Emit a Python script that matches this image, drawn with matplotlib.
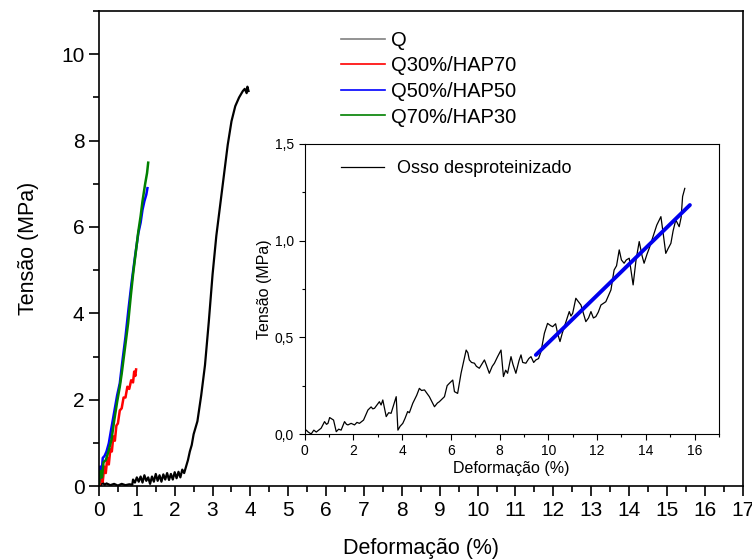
import matplotlib.pyplot as plt
from matplotlib.ticker import MultipleLocator, FuncFormatter

plt.rcParams['font.family'] = ['Liberation Sans', 'DejaVu Sans']

# main curves: strain (%) vs stress (MPa)
q_x = [0.00, 0.05, 0.10, 0.15, 0.20, 0.30, 0.40, 0.50, 0.60, 0.70, 0.80, 0.88,
       0.90, 0.95, 1.00, 1.05, 1.10, 1.15, 1.20, 1.25, 1.30, 1.35, 1.40, 1.45,
       1.50, 1.55, 1.60, 1.65, 1.70, 1.75, 1.80, 1.85, 1.90, 1.95, 2.00, 2.05,
       2.10, 2.15, 2.20, 2.25, 2.30, 2.35, 2.40, 2.45, 2.50, 2.55, 2.60, 2.70,
       2.80, 2.90, 3.00, 3.10, 3.20, 3.30, 3.40, 3.50, 3.60, 3.70, 3.80, 3.85,
       3.90, 3.92, 3.95]
q_y = [0.05, 0.02, 0.08, 0.03, 0.06, 0.02, 0.05, 0.01, 0.05, 0.02, 0.04, 0.03,
       0.15, 0.08, 0.20, 0.10, 0.22, 0.08, 0.25, 0.12, 0.20, 0.05, 0.22, 0.10,
       0.28, 0.12, 0.25, 0.10, 0.27, 0.15, 0.30, 0.14, 0.28, 0.15, 0.32, 0.18,
       0.33, 0.20, 0.38, 0.30, 0.45, 0.60, 0.80, 0.95, 1.20, 1.35, 1.50, 2.10,
       2.80, 3.80, 4.90, 5.80, 6.50, 7.20, 7.90, 8.45, 8.80, 9.00, 9.15, 9.20,
       9.10, 9.25, 9.15]

q30_x = [0.02, 0.06, 0.10, 0.14, 0.18, 0.22, 0.26, 0.30, 0.34, 0.38, 0.42, 0.46,
         0.50, 0.55, 0.60, 0.65, 0.70, 0.75, 0.80, 0.85, 0.90, 0.93, 0.96, 0.98]
q30_y = [0.00, 0.30, 0.10, 0.45, 0.30, 0.65, 0.50, 0.85, 0.80, 1.15, 1.05, 1.40,
         1.45, 1.75, 1.80, 2.05, 2.05, 2.30, 2.25, 2.45, 2.40, 2.65, 2.55, 2.70]

q50_x = [0.00, 0.03, 0.06, 0.10, 0.15, 0.20, 0.26, 0.32, 0.40, 0.48, 0.55, 0.62,
         0.70, 0.78, 0.86, 0.95, 1.04, 1.10, 1.15, 1.20, 1.25, 1.28]
q50_y = [0.10, 0.45, 0.20, 0.65, 0.70, 0.80, 0.99, 1.30, 1.70, 2.10, 2.38, 2.90,
         3.45, 4.10, 4.70, 5.30, 5.86, 6.10, 6.40, 6.60, 6.75, 6.90]

q70_x = [0.00, 0.04, 0.08, 0.12, 0.18, 0.25, 0.33, 0.40, 0.48, 0.55, 0.60, 0.68,
         0.77, 0.84, 0.90, 0.97, 1.04, 1.10, 1.15, 1.22, 1.27, 1.30]
q70_y = [0.05, 0.35, 0.20, 0.55, 0.60, 0.80, 1.07, 1.50, 1.95, 2.30, 2.60, 3.15,
         3.77, 4.40, 4.90, 5.40, 5.90, 6.25, 6.60, 7.00, 7.25, 7.49]

# inset: deproteinized bone
osso_x = [0.00, 0.07, 0.15, 0.27, 0.38, 0.48, 0.58, 0.68, 0.82, 0.90, 0.96, 1.03,
          1.09, 1.19, 1.30, 1.40, 1.50, 1.64, 1.72, 1.78, 1.91, 2.05, 2.15, 2.25,
          2.42, 2.60, 2.73, 2.80, 2.87, 3.07, 3.14, 3.21, 3.35, 3.45, 3.55, 3.76,
          3.83, 3.92, 4.03, 4.12, 4.23, 4.30, 4.44, 4.60, 4.71, 4.80, 4.92, 5.12,
          5.33, 5.45, 5.53, 5.74, 5.85, 5.94, 6.08, 6.15, 6.28, 6.42, 6.63, 6.70,
          6.76, 6.85, 6.97, 7.05, 7.17, 7.38, 7.45, 7.58, 7.70, 7.79, 7.92, 8.06,
          8.16, 8.25, 8.33, 8.47, 8.55, 8.67, 8.80, 8.88, 8.95, 9.08, 9.20, 9.29,
          9.40, 9.49, 9.60, 9.70, 9.84, 9.97, 10.10, 10.18, 10.30, 10.38, 10.48,
          10.57, 10.66, 10.86, 10.93, 11.00, 11.13, 11.20, 11.34, 11.45, 11.54,
          11.65, 11.75, 11.85, 11.95, 12.05, 12.16, 12.36, 12.45, 12.57, 12.70,
          12.80, 12.91, 13.00, 13.11, 13.20, 13.32, 13.48, 13.60, 13.73, 13.85,
          13.93, 14.05, 14.14, 14.34, 14.45, 14.62, 14.70, 14.82, 14.92, 15.03,
          15.12, 15.23, 15.37, 15.45, 15.51, 15.60]
osso_y = [0.01, 0.02, 0.01, 0.00, 0.02, 0.01, 0.02, 0.03, 0.064, 0.05, 0.055,
          0.085, 0.08, 0.072, 0.012, 0.025, 0.02, 0.064, 0.05, 0.047, 0.055,
          0.047, 0.06, 0.055, 0.072, 0.124, 0.14, 0.13, 0.133, 0.167, 0.15,
          0.176, 0.09, 0.11, 0.107, 0.193, 0.02, 0.04, 0.055, 0.08, 0.116,
          0.11, 0.159, 0.20, 0.236, 0.225, 0.228, 0.193, 0.141, 0.16, 0.167,
          0.193, 0.25, 0.262, 0.279, 0.219, 0.21, 0.314, 0.434, 0.42, 0.383,
          0.37, 0.366, 0.35, 0.34, 0.383, 0.36, 0.314, 0.35, 0.366, 0.40,
          0.434, 0.297, 0.33, 0.314, 0.40, 0.36, 0.314, 0.38, 0.409, 0.37,
          0.366, 0.39, 0.40, 0.37, 0.383, 0.39, 0.426, 0.521, 0.572, 0.56,
          0.555, 0.57, 0.521, 0.478, 0.52, 0.555, 0.633, 0.61, 0.624, 0.702,
          0.69, 0.667, 0.62, 0.581, 0.60, 0.633, 0.60, 0.607, 0.63, 0.667,
          0.684, 0.71, 0.745, 0.848, 0.87, 0.952, 0.90, 0.883, 0.90, 0.909,
          0.771, 0.90, 0.995, 0.92, 0.883, 0.93, 0.96, 1.038, 1.08, 1.124,
          1.05, 0.934, 0.96, 0.986, 1.05, 1.107, 1.072, 1.12, 1.228, 1.27]

fit_x = [9.49, 15.81]
fit_y = [0.409, 1.184]

fig = plt.figure(figsize=(7.52, 5.6), dpi=100)
ax = fig.add_axes([0.1316, 0.1321, 0.856, 0.848])

ax.plot(q_x, q_y, color='black', lw=1.6, label='Q')
ax.plot(q30_x, q30_y, color='red', lw=1.8, label='Q30%/HAP70')
ax.plot(q50_x, q50_y, color='blue', lw=1.8, label='Q50%/HAP50')
ax.plot(q70_x, q70_y, color='green', lw=1.8, label='Q70%/HAP30')

ax.set_xlim(0, 17)
ax.set_ylim(0, 11)
ax.xaxis.set_major_locator(MultipleLocator(1))
ax.xaxis.set_minor_locator(MultipleLocator(0.5))
ax.yaxis.set_major_locator(MultipleLocator(2))
ax.yaxis.set_minor_locator(MultipleLocator(1))
ax.tick_params(which='major', direction='out', length=7, width=1.2, labelsize=15)
ax.tick_params(which='minor', direction='out', length=4, width=1.2)
for s in ax.spines.values():
    s.set_linewidth(1.2)
ax.set_xlabel('Deformação (%)', fontsize=15.5, labelpad=13)
ax.set_ylabel('Tensão (MPa)', fontsize=15.5, labelpad=16)

leg = ax.legend(loc='upper left', bbox_to_anchor=(0.363, 0.976), frameon=False,
                fontsize=14.5, handlelength=2.2, handletextpad=0.3,
                labelspacing=0.33, borderaxespad=0)
leg.get_lines()[0].set_color('gray')
for ln in leg.get_lines():
    ln.set_linewidth(1.2)

# inset
ins = fig.add_axes([0.405, 0.225, 0.551, 0.518])
ins.plot(osso_x, osso_y, color='black', lw=0.9, label='Osso desproteinizado')
ins.plot(fit_x, fit_y, color='#0000ee', lw=2.8, solid_capstyle='round')
ins.set_xlim(0, 17)
ins.set_ylim(0, 1.5)
ins.xaxis.set_major_locator(MultipleLocator(2))
ins.xaxis.set_minor_locator(MultipleLocator(1))
ins.yaxis.set_major_locator(MultipleLocator(0.5))
ins.yaxis.set_minor_locator(MultipleLocator(0.25))
ins.yaxis.set_major_formatter(FuncFormatter(lambda v, p: f"{v:.1f}".replace('.', ',')))
ins.tick_params(which='major', direction='out', length=4, width=0.8, labelsize=10)
ins.tick_params(which='minor', direction='out', length=2.5, width=0.8)
for s in ins.spines.values():
    s.set_linewidth(0.8)
ins.set_xlabel('Deformação (%)', fontsize=11.5, labelpad=2)
ins.set_ylabel('Tensão (MPa)', fontsize=11.5, labelpad=2)
ins.legend(handles=ins.get_lines()[:1], loc='upper left', bbox_to_anchor=(0.07, 0.97),
           frameon=False, fontsize=13, handlelength=2.4, handletextpad=0.7, borderaxespad=0)

fig.savefig('out.png', dpi=100)
